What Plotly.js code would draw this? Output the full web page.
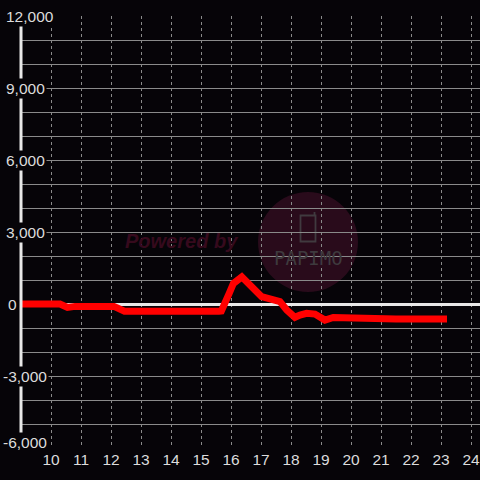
<!DOCTYPE html>
<html>
<head>
<meta charset="utf-8">
<script src="https://cdn.plot.ly/plotly-3.0.1.min.js"></script>
<style>
html,body{margin:0;padding:0;background:#060408;}
#chart{width:480px;height:480px;}
</style>
</head>
<body>
<div id="chart"></div>
<script>
// ---- data ----
const hours = [9, 10.3, 10.55, 10.8, 12.1, 12.45, 15.6, 15.68, 15.94, 16.08, 16.36, 16.63, 16.86, 17.02, 17.36, 17.63, 17.86, 18.13, 18.3, 18.52, 18.8, 19.13, 19.41, 20.3, 21.5, 23.2];
const values = [0, 0, -140, -100, -100, -300, -300, -290, 445, 860, 1130, 790, 445, 305, 195, 100, -250, -555, -460, -390, -420, -670, -560, -600, -620, -620];
const xTickVals = [10, 11, 12, 13, 14, 15, 16, 17, 18, 19, 20, 21, 22, 23, 24];
const yTickVals = [12000, 9000, 6000, 3000, 0, -3000, -6000];
const yTickText = ["12,000", "9,000", "6,000", "3,000", "0", "-3,000", "-6,000"];
const yLabelLeft = [5, 5, 5, 5, 7, 2, 2];   // pixel left edge of each y label (layout only)
const yLabelShift = [0, 0, 0, 0, 0, 0, 6];  // vertical nudge (layout only)

// ---- layout helpers ----
const W = 480, H = 480, ML = 21, MR = 0, MT = 16, MB = 32;
const PW = W - ML - MR, PH = H - MT - MB;
const bg = '#060408';
const txt = '#dcdcdc';
const grid = '#8a8a8a';
const FONT = 'Liberation Sans, Arial, sans-serif';
const fx = p => (p - ML) / PW;
const fy = p => (H - MB - p) / PH;

const annotations = yTickVals.map((v, i) => ({
  x: 0, xref: 'paper', y: v, yref: 'y',
  xanchor: 'left', yanchor: 'middle',
  xshift: yLabelLeft[i] - ML - 1, yshift: yLabelShift[i],
  text: yTickText[i], showarrow: false,
  bgcolor: bg, borderpad: 1,
  font: {family: FONT, size: 15.5, color: txt}
}));

annotations.push({
  x: fx(181), y: fy(241), xref: 'paper', yref: 'paper',
  xanchor: 'center', yanchor: 'middle', showarrow: false,
  text: '<b><i>Powered by</i></b>',
  font: {family: FONT, size: 20, color: '#360a1d'}
});
annotations.push({
  x: fx(308), y: fy(258), xref: 'paper', yref: 'paper',
  xanchor: 'center', yanchor: 'middle', showarrow: false,
  text: 'PAPIMO',
  font: {family: 'DejaVu Sans Mono, monospace', size: 19, color: '#3e3a3e'}
});

const shapes = [
  {type: 'circle', xref: 'paper', yref: 'paper', layer: 'below',
   x0: fx(258), x1: fx(358), y0: fy(292), y1: fy(192),
   fillcolor: '#290b1b', line: {width: 0}},
  {type: 'rect', xref: 'paper', yref: 'paper', layer: 'below',
   x0: fx(300.5), x1: fx(315.5), y0: fy(241.5), y1: fy(215.5),
   fillcolor: 'rgba(0,0,0,0)', line: {color: '#403a3f', width: 1.8}},
  {type: 'line', xref: 'paper', yref: 'paper', layer: 'below',
   x0: fx(314.5), x1: fx(314.5), y0: fy(215.5), y1: fy(212),
   line: {color: '#403a3f', width: 1.8}},
  {type: 'line', xref: 'paper', yref: 'paper', layer: 'above',
   x0: 0, x1: 0, y0: 0, y1: 1, line: {color: '#e8e8e8', width: 3}}
];

const trace = {
  x: hours, y: values, type: 'scatter', mode: 'lines',
  line: {color: '#ff0000', width: 7, shape: 'linear'},
  hoverinfo: 'skip'
};

const layout = {
  width: W, height: H,
  margin: {l: ML, r: MR, t: MT, b: MB, pad: 0},
  paper_bgcolor: bg, plot_bgcolor: bg,
  showlegend: false,
  xaxis: {
    range: [9, 24.3], tickmode: 'array', tickvals: xTickVals,
    showgrid: true, gridcolor: grid, gridwidth: 1, griddash: 'dot',
    zeroline: false, showline: false, ticks: '',
    tickfont: {family: FONT, size: 15.5, color: txt},
    fixedrange: true
  },
  yaxis: {
    range: [-6000, 12000], dtick: 1000, tick0: 0,
    showgrid: true, gridcolor: grid, gridwidth: 1,
    zeroline: true, zerolinecolor: '#e8e8e8', zerolinewidth: 3,
    showticklabels: false, showline: false, ticks: '',
    fixedrange: true
  },
  shapes: shapes,
  annotations: annotations
};

Plotly.newPlot('chart', [trace], layout, {displayModeBar: false, staticPlot: true});
</script>
</body>
</html>
